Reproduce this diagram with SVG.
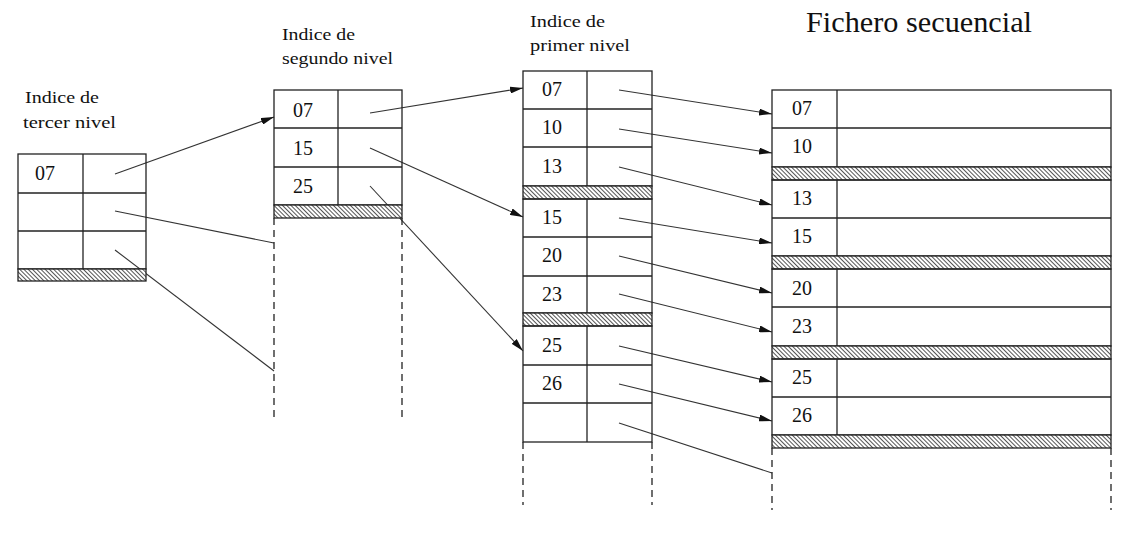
<svg xmlns="http://www.w3.org/2000/svg" width="1138" height="536" viewBox="0 0 1138 536">
<style>
.cell{fill:none;stroke:#222;stroke-width:1.3}
.ln{stroke:#222;stroke-width:1.3}
.hatch{fill:url(#hp);stroke:#222;stroke-width:1.3}
.dash{stroke:#222;stroke-width:1.3;stroke-dasharray:7 5}
.conn{stroke:#333;stroke-width:1.1;fill:none}
.arr{marker-end:url(#ah)}
text{font-family:"Liberation Serif","Times New Roman",serif;fill:#111}
.num{font-size:20px}
.lbl{font-size:17px}
.title{font-size:29px}
</style>
<defs>
<marker id="ah" markerUnits="userSpaceOnUse" markerWidth="13" markerHeight="7" refX="13" refY="3.5" orient="auto">
<path d="M0,0 L13,3.5 L0,7 z" fill="#111"/>
</marker>
<pattern id="hp" patternUnits="userSpaceOnUse" width="3" height="3" patternTransform="rotate(-45)">
<rect x="0" y="0" width="3" height="3" fill="#fff"/>
<line x1="0.5" y1="0" x2="0.5" y2="3" stroke="#555" stroke-width="1"/>
</pattern>
</defs>
<rect x="0" y="0" width="1138" height="536" fill="#fff"/>

<g id="connectors">
<line class="conn arr" x1="115" y1="174" x2="274" y2="117"/>
<line class="conn" x1="115" y1="211" x2="274" y2="243"/>
<line class="conn" x1="115" y1="250" x2="274" y2="371"/>
<line class="conn arr" x1="370" y1="113" x2="523" y2="88"/>
<line class="conn arr" x1="370" y1="148" x2="523" y2="217"/>
<line class="conn arr" x1="370" y1="186" x2="523" y2="351"/>
<line class="conn arr" x1="619" y1="90" x2="772" y2="114"/>
<line class="conn arr" x1="619" y1="129" x2="772" y2="153"/>
<line class="conn arr" x1="619" y1="167" x2="772" y2="205"/>
<line class="conn arr" x1="619" y1="218" x2="772" y2="243"/>
<line class="conn arr" x1="619" y1="256" x2="772" y2="293"/>
<line class="conn arr" x1="619" y1="294" x2="772" y2="332"/>
<line class="conn arr" x1="619" y1="346" x2="772" y2="382"/>
<line class="conn arr" x1="619" y1="384" x2="772" y2="421"/>
<line class="conn" x1="619" y1="423" x2="772" y2="473"/>
</g>

<g id="indice-tercer-nivel">
<text class="lbl" x="25" y="103" textLength="74" lengthAdjust="spacingAndGlyphs">Indice de</text>
<text class="lbl" x="23" y="128" textLength="93" lengthAdjust="spacingAndGlyphs">tercer nivel</text>
<rect class="cell" x="18" y="154" width="128" height="115"/>
<line class="ln" x1="18" y1="193" x2="146" y2="193"/>
<line class="ln" x1="18" y1="231" x2="146" y2="231"/>
<line class="ln" x1="83" y1="154" x2="83" y2="269"/>
<rect class="hatch" x="18" y="269" width="128" height="12"/>
<text class="num" x="35" y="180">07</text>
</g>

<g id="indice-segundo-nivel">
<text class="lbl" x="282" y="40" textLength="73" lengthAdjust="spacingAndGlyphs">Indice de</text>
<text class="lbl" x="282" y="64" textLength="111" lengthAdjust="spacingAndGlyphs">segundo nivel</text>
<rect class="cell" x="274" y="90" width="128" height="115"/>
<line class="ln" x1="274" y1="128" x2="402" y2="128"/>
<line class="ln" x1="274" y1="167" x2="402" y2="167"/>
<line class="ln" x1="338" y1="90" x2="338" y2="205"/>
<rect class="hatch" x="274" y="205" width="128" height="13"/>
<line class="dash" x1="274" y1="218" x2="274" y2="417"/>
<line class="dash" x1="402" y1="218" x2="402" y2="417"/>
<text class="num" x="293" y="117">07</text>
<text class="num" x="293" y="155">15</text>
<text class="num" x="293" y="193">25</text>
</g>

<g id="indice-primer-nivel">
<text class="lbl" x="530" y="27" textLength="75" lengthAdjust="spacingAndGlyphs">Indice de</text>
<text class="lbl" x="530" y="51" textLength="100" lengthAdjust="spacingAndGlyphs">primer nivel</text>
<rect class="cell" x="523" y="71" width="129" height="115"/>
<line class="ln" x1="523" y1="109" x2="652" y2="109"/>
<line class="ln" x1="523" y1="147" x2="652" y2="147"/>
<line class="ln" x1="587" y1="71" x2="587" y2="186"/>
<rect class="hatch" x="523" y="186" width="129" height="13"/>
<rect class="cell" x="523" y="199" width="129" height="114"/>
<line class="ln" x1="523" y1="237" x2="652" y2="237"/>
<line class="ln" x1="523" y1="276" x2="652" y2="276"/>
<line class="ln" x1="587" y1="199" x2="587" y2="313"/>
<rect class="hatch" x="523" y="313" width="129" height="13"/>
<rect class="cell" x="523" y="326" width="129" height="116"/>
<line class="ln" x1="523" y1="365" x2="652" y2="365"/>
<line class="ln" x1="523" y1="403" x2="652" y2="403"/>
<line class="ln" x1="587" y1="326" x2="587" y2="442"/>
<line class="dash" x1="523" y1="442" x2="523" y2="505"/>
<line class="dash" x1="652" y1="442" x2="652" y2="505"/>
<text class="num" x="542" y="96">07</text>
<text class="num" x="542" y="134">10</text>
<text class="num" x="542" y="173">13</text>
<text class="num" x="542" y="224">15</text>
<text class="num" x="542" y="262">20</text>
<text class="num" x="542" y="301">23</text>
<text class="num" x="542" y="352">25</text>
<text class="num" x="542" y="390">26</text>
</g>

<g id="fichero-secuencial">
<text class="title" x="806" y="32" textLength="226" lengthAdjust="spacingAndGlyphs">Fichero secuencial</text>
<rect class="cell" x="772" y="90" width="339" height="77"/>
<line class="ln" x1="772" y1="128" x2="1111" y2="128"/>
<line class="ln" x1="837" y1="90" x2="837" y2="167"/>
<rect class="hatch" x="772" y="167" width="339" height="13"/>
<rect class="cell" x="772" y="180" width="339" height="76"/>
<line class="ln" x1="772" y1="218" x2="1111" y2="218"/>
<line class="ln" x1="837" y1="180" x2="837" y2="256"/>
<rect class="hatch" x="772" y="256" width="339" height="13"/>
<rect class="cell" x="772" y="269" width="339" height="77"/>
<line class="ln" x1="772" y1="307" x2="1111" y2="307"/>
<line class="ln" x1="837" y1="269" x2="837" y2="346"/>
<rect class="hatch" x="772" y="346" width="339" height="13"/>
<rect class="cell" x="772" y="359" width="339" height="76"/>
<line class="ln" x1="772" y1="397" x2="1111" y2="397"/>
<line class="ln" x1="837" y1="359" x2="837" y2="435"/>
<rect class="hatch" x="772" y="435" width="339" height="13"/>
<line class="dash" x1="772" y1="448" x2="772" y2="510"/>
<line class="dash" x1="1111" y1="448" x2="1111" y2="510"/>
<text class="num" x="792" y="115">07</text>
<text class="num" x="792" y="153">10</text>
<text class="num" x="792" y="205">13</text>
<text class="num" x="792" y="243">15</text>
<text class="num" x="792" y="295">20</text>
<text class="num" x="792" y="333">23</text>
<text class="num" x="792" y="384">25</text>
<text class="num" x="792" y="422">26</text>
</g>
</svg>
